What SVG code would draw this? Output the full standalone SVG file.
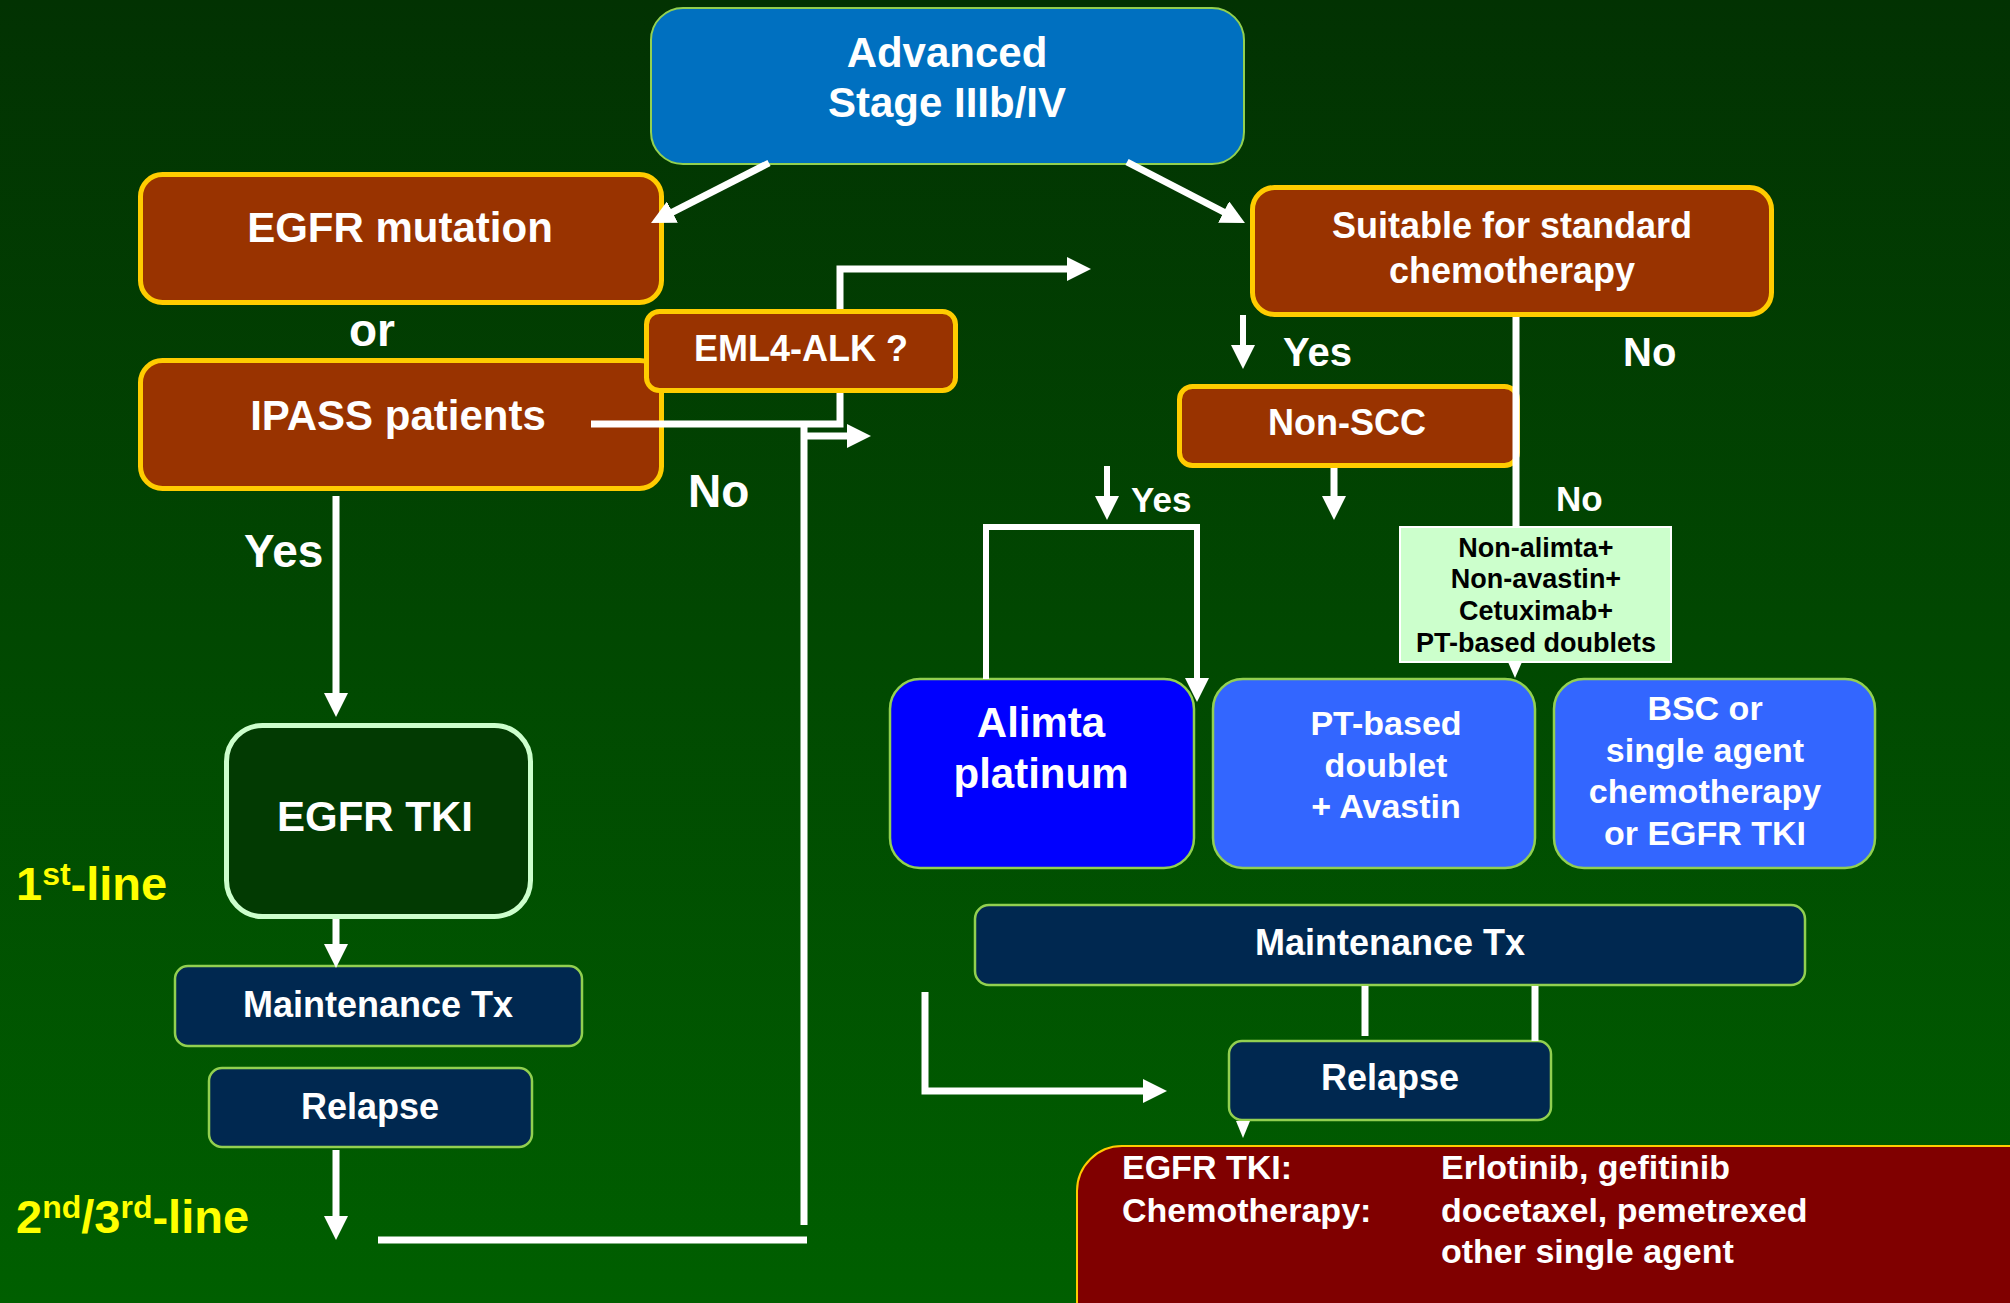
<svg xmlns="http://www.w3.org/2000/svg" width="2010" height="1303" viewBox="0 0 2010 1303">
<defs>
<linearGradient id="bg" x1="0" y1="0" x2="0" y2="1">
<stop offset="0" stop-color="#023202"/>
<stop offset="1" stop-color="#005f00"/>
</linearGradient>
<marker id="ah" viewBox="0 0 24 24" markerWidth="24" markerHeight="24" refX="12" refY="12" orient="auto" markerUnits="userSpaceOnUse">
<path d="M0,0 L24,12 L0,24 z" fill="#ffffff"/>
</marker>
<style>
text{font-family:"Liberation Sans",Arial,Helvetica,sans-serif;font-weight:bold;fill:#ffffff}
.c{text-anchor:middle}
.brown{fill:#993300;stroke:#ffcc00;stroke-width:5}
.navy{fill:#002850;stroke:#92d050;stroke-width:2.5}
.lb{fill:#3366ff;stroke:#92d050;stroke-width:2.5}
.conn{fill:none;stroke:#ffffff;stroke-width:7}
.thin{stroke-width:6}
.yel{fill:#ffff00}
.blk{fill:#000000}
</style>
</defs>
<rect x="0" y="0" width="2010" height="1303" fill="url(#bg)"/>

<g id="advanced">
<rect x="651" y="8" width="593" height="156" rx="32" fill="#0070c0" stroke="#92d050" stroke-width="2"/>
<text class="c" x="947" y="67" font-size="42">Advanced</text>
<text class="c" x="947" y="117" font-size="42">Stage IIIb/IV</text>
</g>

<g id="ipass">
<rect class="brown" x="140.5" y="360.5" width="521" height="128" rx="22"/>
<text class="c" x="398" y="430" font-size="42">IPASS patients</text>
</g>

<g id="egfr-mutation">
<rect class="brown" x="140.5" y="174.5" width="521" height="128" rx="22"/>
<text class="c" x="400" y="242" font-size="42">EGFR mutation</text>
</g>

<g id="suitable">
<rect class="brown" x="1252.5" y="187.5" width="519" height="127" rx="22"/>
<text class="c" x="1512" y="238" font-size="36">Suitable for standard</text>
<text class="c" x="1512" y="283" font-size="36">chemotherapy</text>
</g>

<g id="non-scc">
<rect class="brown" x="1179.5" y="386.5" width="338" height="79" rx="13"/>
<text class="c" x="1347" y="435" font-size="36">Non-SCC</text>
</g>

<g id="egfr-tki">
<rect x="226.5" y="725.5" width="304" height="191" rx="36" fill="#023a02" stroke="#ccffcc" stroke-width="5"/>
<text class="c" x="375" y="831" font-size="42">EGFR TKI</text>
</g>

<g id="maintenance-left">
<rect class="navy" x="175" y="966" width="407" height="80" rx="13"/>
<text class="c" x="378" y="1017" font-size="36">Maintenance Tx</text>
</g>

<g id="relapse-left">
<rect class="navy" x="209" y="1068" width="323" height="79" rx="13"/>
<text class="c" x="370" y="1119" font-size="36">Relapse</text>
</g>

<g id="alimta">
<rect x="890" y="679" width="304" height="189" rx="30" fill="#0000ff" stroke="#92d050" stroke-width="2.5"/>
<text class="c" x="1041" y="737" font-size="42">Alimta</text>
<text class="c" x="1041" y="788" font-size="42">platinum</text>
</g>

<g id="pt-doublet">
<rect class="lb" x="1213" y="679" width="322" height="189" rx="30"/>
<text class="c" x="1386" y="735" font-size="34">PT-based</text>
<text class="c" x="1386" y="777" font-size="34">doublet</text>
<text class="c" x="1386" y="818" font-size="34">+ Avastin</text>
</g>

<g id="bsc">
<rect class="lb" x="1554" y="679" width="321" height="189" rx="30"/>
<text class="c" x="1705" y="720" font-size="34">BSC or</text>
<text class="c" x="1705" y="762" font-size="34">single agent</text>
<text class="c" x="1705" y="803" font-size="34">chemotherapy</text>
<text class="c" x="1705" y="845" font-size="34">or EGFR TKI</text>
</g>

<g id="non-alimta">
<rect x="1400" y="527" width="271" height="135" fill="#ccffcc" stroke="#ffffff" stroke-width="2"/>
<text class="c blk" x="1536" y="557" font-size="27">Non-alimta+</text>
<text class="c blk" x="1536" y="588" font-size="27">Non-avastin+</text>
<text class="c blk" x="1536" y="620" font-size="27">Cetuximab+</text>
<text class="c blk" x="1536" y="652" font-size="27">PT-based doublets</text>
</g>

<g id="maintenance-right">
<rect class="navy" x="975" y="905" width="830" height="80" rx="14"/>
<text class="c" x="1390" y="955" font-size="36">Maintenance Tx</text>
</g>

<g id="relapse-right">
<rect class="navy" x="1229" y="1041" width="322" height="79" rx="13"/>
<text class="c" x="1390" y="1090" font-size="36">Relapse</text>
</g>

<g id="second-line-options">
<rect x="1077" y="1146" width="1000" height="250" rx="45" fill="#800000" stroke="#ffcc00" stroke-width="2"/>
<text x="1122" y="1179" font-size="34">EGFR TKI:</text>
<text x="1122" y="1222" font-size="34">Chemotherapy:</text>
<text x="1441" y="1179" font-size="34">Erlotinib, gefitinib</text>
<text x="1441" y="1222" font-size="34">docetaxel, pemetrexed</text>
<text x="1441" y="1263" font-size="34">other single agent</text>
</g>

<g id="eml4-alk">
<rect class="brown" x="646.5" y="311.5" width="309" height="79" rx="13"/>
<text class="c" x="801" y="361" font-size="36">EML4-ALK ?</text>
</g>

<g id="connectors">
<path class="conn" d="M769,163 L661.7,217.6" marker-end="url(#ah)"/>
<path class="conn" d="M1127,162 L1234.3,217.5" marker-end="url(#ah)"/>
<path class="conn" d="M591,424 H840 V393 M840,309 V269 H1079" marker-end="url(#ah)"/>
<path class="conn" d="M804,1225 V421"/>
<path class="conn" d="M804,436 H859" marker-end="url(#ah)"/>
<path class="conn" d="M378,1240 H807"/>
<path class="conn" d="M336,496 V705" marker-end="url(#ah)"/>
<path class="conn" d="M336,919 V956" marker-end="url(#ah)"/>
<path class="conn" d="M336,1150 V1228" marker-end="url(#ah)"/>
<path class="conn thin" d="M1243,315 V357" marker-end="url(#ah)"/>
<path class="conn" d="M1516,317 V527"/>
<path class="conn thin" d="M1107,466 V508" marker-end="url(#ah)"/>
<path class="conn" d="M1334,468 V508" marker-end="url(#ah)"/>
<path class="conn thin" d="M986,679 V527 H1197 V690" marker-end="url(#ah)"/>
<polygon points="1508,662 1522,662 1515,678" fill="#ffffff"/>
<path class="conn" d="M1365,986 V1036"/>
<path class="conn" d="M1535,986 V1041"/>
<path class="conn" d="M925,992 V1091 H1155" marker-end="url(#ah)"/>
<polygon points="1236,1121 1250,1121 1243,1138" fill="#ffffff"/>
</g>

<g id="labels">
<text x="349" y="346" font-size="46">or</text>
<text x="244" y="567" font-size="46">Yes</text>
<text x="688" y="507" font-size="46">No</text>
<text x="1283" y="366" font-size="40">Yes</text>
<text x="1623" y="366" font-size="40">No</text>
<text x="1131" y="512" font-size="35">Yes</text>
<text x="1556" y="511" font-size="35">No</text>
<text class="yel" x="16" y="900" font-size="47">1<tspan dy="-15" font-size="32">st</tspan><tspan dy="15">-line</tspan></text>
<text class="yel" x="16" y="1233" font-size="47">2<tspan dy="-15" font-size="32">nd</tspan><tspan dy="15">/3</tspan><tspan dy="-15" font-size="32">rd</tspan><tspan dy="15">-line</tspan></text>
</g>
</svg>
